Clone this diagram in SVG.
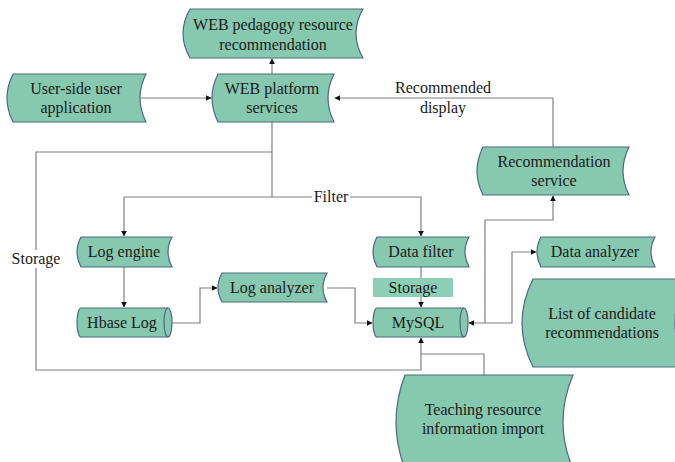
<svg xmlns="http://www.w3.org/2000/svg" width="675" height="462" viewBox="0 0 675 462">
<style>
.n{fill:#86c8b0;stroke:#4d6b78;stroke-width:1.2}
.t{font-family:"Liberation Serif","Times New Roman",serif;font-size:16px;fill:#1a1a1a;text-anchor:middle}
.c{fill:none;stroke:#808080;stroke-width:1.2}
.bg{fill:#ffffff}
</style>
<defs>
<marker id="ah" viewBox="0 0 10 10" refX="9" refY="5" markerWidth="6" markerHeight="6" orient="auto-start-reverse" markerUnits="userSpaceOnUse">
<path d="M0,0 L10,5 L0,10 Z" fill="#111"/>
</marker>
</defs>
<g id="connectors">
<path class="c" d="M140,98 H211" marker-end="url(#ah)"/>
<path class="c" d="M272,74 V59" marker-end="url(#ah)"/>
<path class="c" d="M553,147 V98 H335" marker-end="url(#ah)"/>
<path class="c" d="M272,122 V197"/>
<path class="c" d="M272,152 H36 V370 H421 V338" marker-end="url(#ah)"/>
<path class="c" d="M124,197 H421 V236" marker-end="url(#ah)"/>
<path class="c" d="M124,197 V236" marker-end="url(#ah)"/>
<path class="c" d="M124,267 V307" marker-end="url(#ah)"/>
<path class="c" d="M172,323 H200 V288 H217" marker-end="url(#ah)"/>
<path class="c" d="M327,288 H355 V323 H372" marker-end="url(#ah)"/>
<path class="c" d="M421,267 V307" marker-end="url(#ah)"/>
<path class="c" d="M536,252 H512 V323 H469" marker-start="url(#ah)" marker-end="url(#ah)"/>
<path class="c" d="M485,323 V220 H553 V196" marker-end="url(#ah)"/>
<path class="c" d="M484,375 V354 H421"/>
<rect class="bg" x="312" y="188" width="38" height="18"/>
<text class="t" x="331" y="202">Filter</text>
<rect class="bg" x="11" y="250" width="51" height="18"/>
<text class="t" x="36" y="264">Storage</text>
<rect class="bg" x="396" y="80" width="94" height="16"/>
<text class="t" x="443" y="93">Recommended</text>
<text class="t" x="443" y="113">display</text>
</g>
<g id="web-pedagogy">
<path class="n" d="M190,9 H363 Q349,33.5 363,58 H190 Q176,33.5 190,9 Z"/>
<text class="t" x="273" y="30">WEB pedagogy resource</text>
<text class="t" x="273" y="50">recommendation</text>
</g>
<g id="user-side">
<path class="n" d="M13,74 H146 Q134,98 146,122 H13 Q1,98 13,74 Z"/>
<text class="t" x="76" y="94">User-side user</text>
<text class="t" x="76" y="113">application</text>
</g>
<g id="web-platform">
<path class="n" d="M218,74 H334 Q322,98 334,122 H218 Q206,98 218,74 Z"/>
<text class="t" x="272" y="94">WEB platform</text>
<text class="t" x="272" y="113">services</text>
</g>
<g id="recommendation-service">
<path class="n" d="M483,147 H629 Q617,171 629,195 H483 Q471,171 483,147 Z"/>
<text class="t" x="554" y="167">Recommendation</text>
<text class="t" x="554" y="186">service</text>
</g>
<g id="log-engine">
<path class="n" d="M81,237 H172 Q164,252 172,267 H81 Q73,252 81,237 Z"/>
<text class="t" x="124" y="257">Log engine</text>
</g>
<g id="hbase-log">
<path class="n" d="M81,308 H168 A4,14.5 0 0 1 168,337 H81 A4,14.5 0 0 1 81,308 Z"/>
<path class="n" d="M168,308 A4,14.5 0 0 0 168,337" fill="none"/>
<text class="t" x="122" y="328">Hbase Log</text>
</g>
<g id="log-analyzer">
<path class="n" d="M222,273 H327 Q319,287.5 327,302 H222 Q214,287.5 222,273 Z"/>
<text class="t" x="272" y="293">Log analyzer</text>
</g>
<g id="data-filter">
<path class="n" d="M377,237 H469 Q461,252 469,267 H377 Q369,252 377,237 Z"/>
<text class="t" x="421" y="257">Data filter</text>
</g>
<g id="storage-label">
<rect x="373" y="278" width="80" height="19" fill="#8ccfb6"/>
<text class="t" x="413" y="293">Storage</text>
</g>
<g id="mysql">
<path class="n" d="M377,308 H464 A4,14.5 0 0 1 464,337 H377 A4,14.5 0 0 1 377,308 Z"/>
<path class="n" d="M464,308 A4,14.5 0 0 0 464,337" fill="none"/>
<text class="t" x="418" y="328">MySQL</text>
</g>
<g id="data-analyzer">
<path class="n" d="M541,237 H655 Q647,252 655,267 H541 Q533,252 541,237 Z"/>
<text class="t" x="595" y="257">Data analyzer</text>
</g>
<g id="candidate-list">
<path class="n" d="M533,279 H686 Q664,323 686,367 H533 Q511,323 533,279 Z"/>
<text class="t" x="602" y="319">List of candidate</text>
<text class="t" x="602" y="338">recommendations</text>
</g>
<g id="teaching-import">
<path class="n" d="M405,375 H573 Q553,422 573,469 H405 Q387,422 405,375 Z"/>
<text class="t" x="483" y="415">Teaching resource</text>
<text class="t" x="483" y="434">information import</text>
</g>
</svg>
